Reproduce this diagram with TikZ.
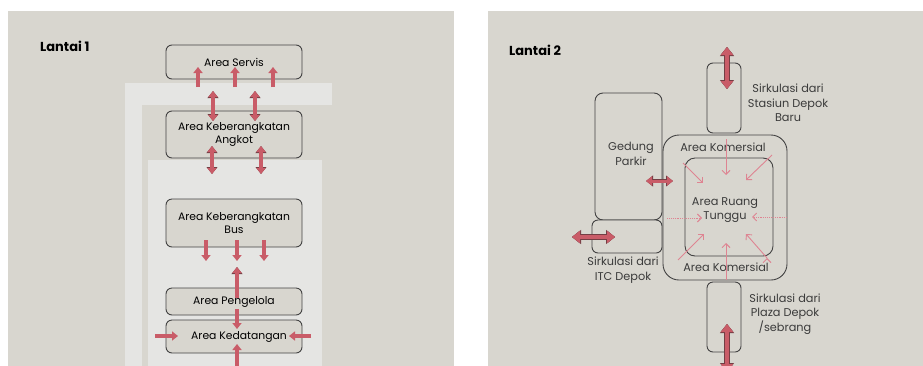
\documentclass[tikz,border=0pt]{standalone}
\usepackage{fontspec}
\setmainfont{Poppins}
\usetikzlibrary{arrows.meta}

\definecolor{panel}{RGB}{216,214,207}
\definecolor{band}{RGB}{229,229,227}
\definecolor{edge}{RGB}{66,66,66}
\definecolor{flowred}{RGB}{201,92,104}
\definecolor{flowpink}{RGB}{222,132,146}
\definecolor{rim}{RGB}{115,62,68}

\tikzset{
	room/.style={draw=edge, line width=0.9pt, rounded corners=6pt, fill=panel,
		align=center, inner sep=0pt, font=\fontsize{10.8}{13.5}\selectfont},
	note/.style={align=center, inner sep=0pt, text=edge!90!black, font=\fontsize{11.3}{14.5}\selectfont},
	floor/.style={inner sep=0pt, font=\fontsize{13}{15}\selectfont\bfseries},
	flow/.style={draw=flowred, line width=3.5pt, -{Triangle[width=9pt,length=6pt]}},
	flowrim/.style={flow, preaction={draw=rim, line width=4.6pt, -{Triangle[width=10.6pt,length=7pt]}}},
	twoway/.style={draw=flowred, line width=3.5pt, {Triangle[width=9pt,length=6pt]}-{Triangle[width=9pt,length=6pt]},
		preaction={draw=rim, line width=4.6pt, {Triangle[width=10.6pt,length=7pt]}-{Triangle[width=10.6pt,length=7pt]}}},
	bigway/.style={twoway, line width=4.5pt, {Triangle[width=12pt,length=8pt]}-{Triangle[width=12pt,length=8pt]},
		preaction={draw=rim, line width=5.6pt, {Triangle[width=13.6pt,length=9pt]}-{Triangle[width=13.6pt,length=9pt]}}},
	hint/.style={draw=flowpink, line width=0.9pt, -{Straight Barb[length=4pt,width=8pt]}}
}

\begin{document}
\begin{tikzpicture}[x=1pt,y=-1pt]
		\clip (0,0) rectangle (923,365);
		\fill[white] (0,0) rectangle (923,365);
		\fill[panel] (8,11) rectangle (454,370);
		\fill[panel] (488,11) rectangle (923,370);
		
		% Lantai 1
		\fill[band] (125,83) rectangle (332,105);
		\fill[band] (125,105) rectangle (142,370);
		\fill[band] (148,160) rectangle (322,370);
		
		\node[floor, anchor=west] (l1) at (40,46) {Lantai 1};
		
		\node[room, minimum width=136pt, minimum height=34pt] (servis) at (234,62) {Area Servis};
		\node[room, minimum width=136pt, minimum height=47pt] (angkot) at (234,134.5) {Area Keberangkatan\\Angkot};
		\node[room, minimum width=136pt, minimum height=48pt] (bus) at (234,223) {Area Keberangkatan\\Bus};
		\node[room, minimum width=136pt, minimum height=27pt] (pengelola) at (234,301.5) {Area Pengelola};
		\node[room, minimum width=136pt, minimum height=33pt] (datang) at (234,336.5) {\hspace{10pt}Area Kedatangan};
		
		\foreach \i/\x in {1/198,2/235,3/273}{
			\coordinate (up\i) at (\x,87);
			\coordinate (up\i') at (\x,67);
			\draw[flow] (up\i) -- (up\i');
		}
		\foreach \i/\x in {1/206,2/237,3/264}{
			\coordinate (dn\i) at (\x,240);
			\coordinate (dn\i') at (\x,261);
			\draw[flow] (dn\i) -- (dn\i');
		}
		\coordinate (sa1) at (213,91);  \coordinate (sa1') at (213,121);
		\coordinate (sa2) at (255,91);  \coordinate (sa2') at (255,121);
		\coordinate (ab1) at (212,146); \coordinate (ab1') at (212,174);
		\coordinate (ab2) at (261,146); \coordinate (ab2') at (261,174);
		\draw[twoway] (sa1) -- (sa1');
		\draw[twoway] (sa2) -- (sa2');
		\draw[twoway] (ab1) -- (ab1');
		\draw[twoway] (ab2) -- (ab2');
		
		\coordinate (pg) at (237,298);  \coordinate (pg') at (237,267);
		\coordinate (pk) at (237,309);  \coordinate (pk') at (237,329);
		\coordinate (kl) at (155,336);  \coordinate (kl') at (178,336);
		\coordinate (kr) at (311,336);  \coordinate (kr') at (289,336);
		\coordinate (kb) at (237,368);  \coordinate (kb') at (237,344);
		\draw[flowrim] (pg) -- (pg');
		\draw[flow] (pk) -- (pk');
		\draw[flow] (kl) -- (kl');
		\draw[flow] (kr) -- (kr');
		\draw[flow] (kb) -- (kb');
		
		% Lantai 2
		\node[floor, anchor=west] (l2) at (509,50) {Lantai 2};
		
		\node[room, minimum width=34pt, minimum height=70pt] (koridor1) at (724,98) {};
		\node[room, minimum width=34pt, minimum height=70pt] (koridor2) at (724,317) {};
		\node[room, minimum width=67pt, minimum height=127pt, rounded corners=8pt] (parkir) at (628.5,156.5) {};
		\node[note, anchor=center] at (631,154) {Gedung\\Parkir};
		\node[room, minimum width=70pt, minimum height=33pt] (itc) at (627,236.5) {};
		\node[room, minimum width=124pt, minimum height=145pt, rounded corners=16pt] (komersial) at (725,207.5) {};
		\node[room, minimum width=88pt, minimum height=98pt, rounded corners=10pt] (tunggu) at (729,207) {};
		
		\node[note] (kom1) at (723,147) {Area Komersial};
		\node[note] (kom2) at (726,267) {Area Komersial};
		\node[note] (ruang) at (725,210) {Area Ruang\\Tunggu};
		\node[note] (stasiun) at (788,103) {Sirkulasi dari\\Stasiun Depok\\Baru};
		\node[note] (itctext) at (623,270) {Sirkulasi dari\\ITC Depok};
		\node[note] (plaza) at (785,314) {Sirkulasi dari\\Plaza Depok\\/sebrang};
		
		\coordinate (st) at (727,47);   \coordinate (st') at (727,89);
		\coordinate (pz) at (727,324);  \coordinate (pz') at (727,372);
		\coordinate (ic) at (572,237);  \coordinate (ic') at (615,237);
		\coordinate (pa) at (646,181);  \coordinate (pa') at (673,181);
		\draw[bigway] (st) -- (st');
		\draw[bigway] (pz) -- (pz');
		\draw[bigway] (ic) -- (ic');
		\draw[twoway, line width=3pt] (pa) -- (pa');
		
		\coordinate (h1) at (726,139);  \coordinate (h1') at (726,175);
		\coordinate (h2) at (683,163);  \coordinate (h2') at (703,183);
		\coordinate (h3) at (772,155);  \coordinate (h3') at (746,180);
		\coordinate (h4) at (667,218);  \coordinate (h4') at (702,218);
		\coordinate (h5) at (787,217);  \coordinate (h5') at (752,217);
		\coordinate (h6) at (678,260);  \coordinate (h6') at (704,234);
		\coordinate (h7) at (726,280);  \coordinate (h7') at (726,243);
		\coordinate (h8) at (767,258);  \coordinate (h8') at (746,234);
		\path[hint]
			(h1) edge (h1')
			(h2) edge (h2')
			(h3) edge (h3')
			(h4) edge[densely dotted] (h4')
			(h5) edge[densely dotted] (h5')
			(h6) edge (h6')
			(h7) edge (h7')
			(h8) edge (h8');
	\end{tikzpicture}
\end{document}
